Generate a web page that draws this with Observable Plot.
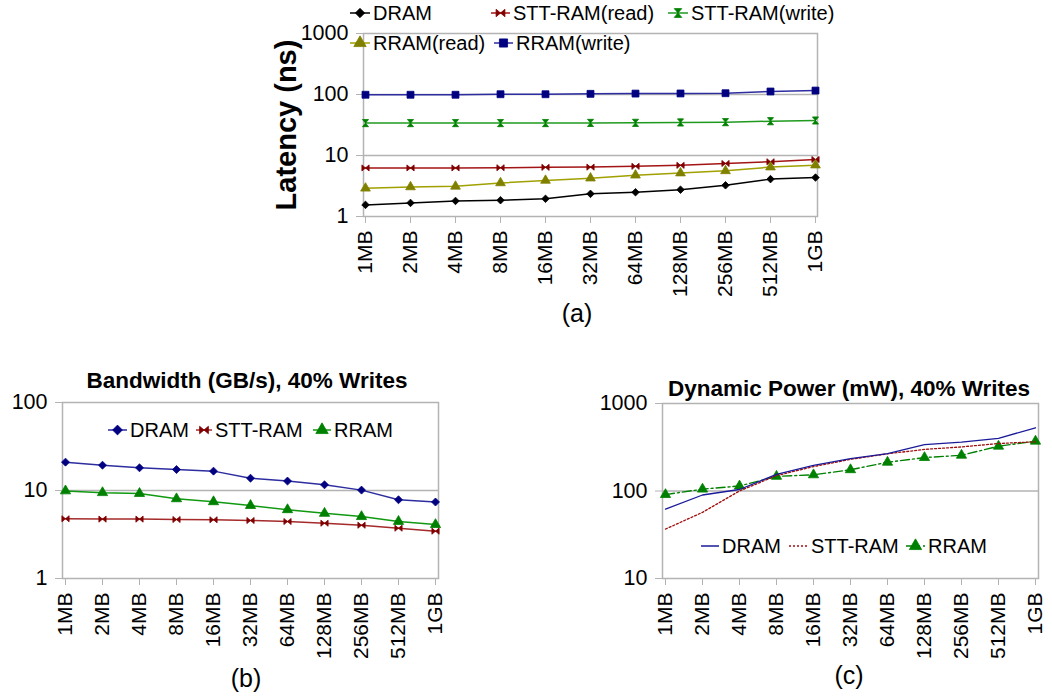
<!DOCTYPE html>
<html><head><meta charset="utf-8">
<script src="https://cdn.jsdelivr.net/npm/d3@7"></script>
<script src="https://cdn.jsdelivr.net/npm/@observablehq/plot@0.6"></script>
<style>
body{margin:0;background:#fff;font-family:"Liberation Sans",Arial,sans-serif;}
#root{position:relative;width:1052px;height:697px;overflow:hidden;background:#fff;}
#root > svg, #root > figure{position:absolute;margin:0;}
</style></head><body><div id="root"></div>
<script>
// ---------- data ----------
const sizes = ["1MB","2MB","4MB","8MB","16MB","32MB","64MB","128MB","256MB","512MB","1GB"];

// (a) Latency (ns)
const latDRAM      = [1.55, 1.67, 1.8, 1.85, 1.95, 2.35, 2.5, 2.75, 3.25, 4.1, 4.35];
const latSTTRead   = [6.25, 6.25, 6.25, 6.3, 6.4, 6.45, 6.65, 6.9, 7.4, 7.9, 8.6];
const latSTTWrite  = [34, 34, 34, 34, 34, 34.2, 34.3, 34.8, 35.2, 36.5, 37.5];
const latRRAMRead  = [2.9, 3.05, 3.12, 3.55, 3.9, 4.25, 4.75, 5.15, 5.6, 6.45, 6.95];
const latRRAMWrite = [99, 99, 99, 101, 101, 102.5, 103.5, 104, 105, 112, 116];

// (b) Bandwidth (GB/s), 40% writes
const bwDRAM = [21, 19.4, 18.1, 17.3, 16.6, 13.8, 12.8, 11.6, 10.1, 7.85, 7.4];
const bwSTT  = [4.77, 4.73, 4.73, 4.68, 4.65, 4.56, 4.44, 4.25, 4.03, 3.73, 3.45];
const bwRRAM = [9.9, 9.45, 9.25, 8.05, 7.45, 6.75, 6.05, 5.5, 5.05, 4.45, 4.1];

// (c) Dynamic power (mW), 40% writes
const pwDRAM = [62, 90, 104, 155, 196, 234, 268, 338, 361, 400, 528];
const pwSTT  = [36.7, 57, 100, 150, 190, 230, 266, 299, 319, 349, 365];
const pwRRAM = [91, 105, 114, 147, 153, 175, 213, 241, 256, 325, 371];

const ticksA = [1, 10, 100, 1000];
const ticksB = [1, 10, 100];
const ticksC = [10, 100, 1000];

// ---------- symbols ----------
const bowtie = {draw(ctx, size){ const r = Math.sqrt(size/Math.PI); const h = r*0.85;
  ctx.moveTo(-r,-h); ctx.lineTo(r,h); ctx.lineTo(r,-h); ctx.lineTo(-r,h); ctx.closePath(); }};
const hourglass = {draw(ctx, size){ const r = Math.sqrt(size/Math.PI); const w = r*0.85;
  ctx.moveTo(-w,-r); ctx.lineTo(w,-r); ctx.lineTo(-w,r); ctx.lineTo(w,r); ctx.closePath(); }};

const rows = vals => sizes.map((s, i) => ({size: s, v: vals[i]}));
const FONT = '"Liberation Sans", Arial, sans-serif';

function seriesMarks(s) {
  const d = rows(s.vals);
  const m = [Plot.line(d, {x: "size", y: "v", stroke: s.line, strokeWidth: s.sw ?? 1.5, strokeDasharray: s.dash ?? null})];
  if (s.symbol) m.push(Plot.dot(d, {x: "size", y: "v", symbol: s.symbol, r: s.r, fill: s.mark, stroke: s.mark, strokeWidth: 0.8}));
  return m;
}

function chart({left, top, width, height, ml, mr, mt, mb, domain, ticks, series}) {
  const p = Plot.plot({
    width, height, marginLeft: ml, marginRight: mr, marginTop: mt, marginBottom: mb,
    style: {fontFamily: FONT, fontSize: "21px", background: "transparent", color: "black", overflow: "visible"},
    x: {type: "point", domain: sizes, padding: 0, label: null},
    y: {type: "log", domain, label: null},
    marks: [
      Plot.gridY(ticks.slice(1, -1), {stroke: "#b3b3b3", strokeOpacity: 1, strokeWidth: 1.3}),
      Plot.frame({stroke: "#b3b3b3", strokeWidth: 1.5}),
      Plot.axisY(ticks, {tickFormat: d => String(d), tickSize: 7, tickPadding: 8, stroke: "#b3b3b3", strokeOpacity: 1, fill: "black", fontSize: 21.5}),
      Plot.axisX({tickRotate: -90, tickSize: 7, tickPadding: 7, stroke: "#b3b3b3", strokeOpacity: 1, fill: "black", fontSize: 21}),
      ...series.flatMap(seriesMarks)
    ]
  });
  p.style.left = left + "px"; p.style.top = top + "px";
  document.getElementById("root").appendChild(p);
}

// (a)
chart({left: 263, top: 0, width: 600, height: 320, ml: 100, mr: 46, mt: 33, mb: 104,
  domain: [1, 1000], ticks: ticksA, series: [
    {vals: latRRAMWrite, line: "#2d2da0", mark: "#000080", symbol: "square", r: 3.9},
    {vals: latSTTWrite, line: "#1f9a1f", mark: "#008000", symbol: hourglass, r: 3.6},
    {vals: latSTTRead, line: "#a31515", mark: "#800000", symbol: bowtie, r: 3.6},
    {vals: latRRAMRead, line: "#a0a000", mark: "#808000", symbol: "triangle", r: 3.6},
    {vals: latDRAM, line: "#000000", mark: "#000000", symbol: "diamond2", r: 3.4}
  ]});

// (b)
chart({left: 0, top: 360, width: 460, height: 337, ml: 62, mr: 22, mt: 42, mb: 119,
  domain: [1, 100], ticks: ticksB, series: [
    {vals: bwSTT, line: "#a52a2a", mark: "#800000", symbol: bowtie, r: 3.6},
    {vals: bwRRAM, line: "#119911", mark: "#008000", symbol: "triangle", r: 3.8},
    {vals: bwDRAM, line: "#2d2da0", mark: "#000080", symbol: "diamond2", r: 3.6}
  ]});

// (c)
chart({left: 590, top: 360, width: 462, height: 337, ml: 72, mr: 14, mt: 43, mb: 119,
  domain: [10, 1000], ticks: ticksC, series: [
    {vals: pwRRAM, line: "#008000", mark: "#008000", symbol: "triangle", r: 3.8, dash: "9,3,2,3", sw: 1.4},
    {vals: pwSTT, line: "#a01010", sw: 1.3, dash: "2,2"},
    {vals: pwDRAM, line: "#1a1a99", sw: 1.3}
  ]});

// ---------- overlay: legends, titles, captions ----------
const ov = d3.select("#root").append("svg").attr("width", 1052).attr("height", 697)
  .style("left", "0px").style("top", "0px").style("pointer-events", "none")
  .attr("font-family", FONT);

function legendItem(x0, y, len, line, dash, sym, symColor, r, label, fs) {
  ov.append("line").attr("x1", x0).attr("x2", x0 + len).attr("y1", y).attr("y2", y)
    .attr("stroke", line).attr("stroke-width", 1.5).attr("stroke-dasharray", dash);
  if (sym) ov.append("path").attr("transform", `translate(${x0 + len / 2},${y})`)
    .attr("d", d3.symbol(sym, Math.PI * r * r)()).attr("fill", symColor).attr("stroke", symColor).attr("stroke-width", 0.8);
  ov.append("text").attr("x", x0 + len + 3).attr("y", y).attr("dy", "0.36em")
    .attr("font-size", fs).attr("fill", "black").text(label);
}

// (a) legend
legendItem(350, 13, 20, "#000", null, d3.symbolDiamond2, "#000", 4.2, "DRAM", 20);
legendItem(491, 13, 19, "#a31515", null, bowtie, "#800000", 4.4, "STT-RAM(read)", 20);
legendItem(668, 13, 20, "#1f9a1f", null, hourglass, "#008000", 4.4, "STT-RAM(write)", 20);
legendItem(350, 43, 20, "#a0a000", null, d3.symbolTriangle, "#808000", 4.6, "RRAM(read)", 20);
legendItem(494, 43, 19, "#2d2da0", null, d3.symbolSquare, "#000080", 4.6, "RRAM(write)", 20);

// (b) legend
legendItem(108, 430, 19, "#2d2da0", null, d3.symbolDiamond2, "#000080", 4.4, "DRAM", 20);
legendItem(196, 430, 16, "#a52a2a", null, bowtie, "#800000", 4.4, "STT-RAM", 20);
legendItem(313, 430, 18, "#119911", null, d3.symbolTriangle, "#008000", 4.6, "RRAM", 20);

// (c) legend
legendItem(701, 546, 18, "#1a1a99", null, null, null, 0, "DRAM", 20);
legendItem(789, 546, 19, "#a01010", "2,2", null, null, 0, "STT-RAM", 20);
legendItem(906, 546, 19, "#008000", "9,3,2,3", d3.symbolTriangle, "#008000", 4.6, "RRAM", 20);

function txt(x, y, s, fs, weight, rotate) {
  const t = ov.append("text").attr("x", x).attr("y", y).attr("dy", "0.36em")
    .attr("text-anchor", "middle").attr("font-size", fs).attr("font-weight", weight || "normal").attr("fill", "black").text(s);
  if (rotate) t.attr("transform", `rotate(${rotate},${x},${y})`);
}
txt(286, 125, "Latency (ns)", 29, "bold", -90);
txt(577, 313, "(a)", 25);
txt(247, 380, "Bandwidth (GB/s), 40% Writes", 22.5, "bold");
txt(246, 678, "(b)", 25);
txt(849, 388, "Dynamic Power (mW), 40% Writes", 22.5, "bold");
txt(849, 675, "(c)", 25);
</script></body></html>
